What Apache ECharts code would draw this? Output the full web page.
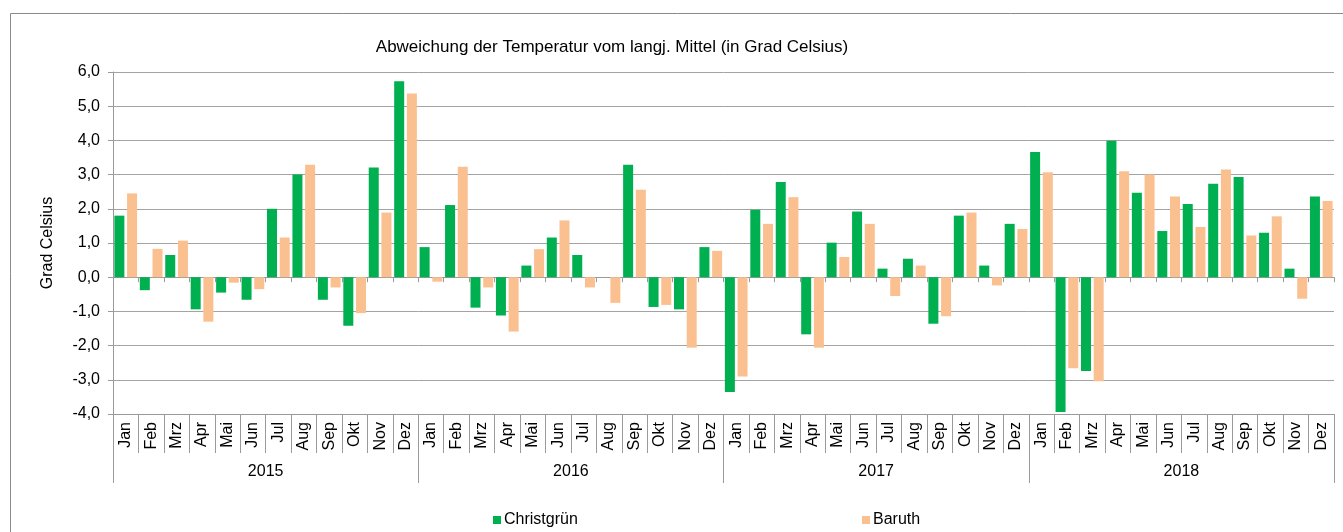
<!DOCTYPE html>
<html>
<head>
<meta charset="utf-8">
<script src="https://cdn.jsdelivr.net/npm/echarts@6/dist/echarts.min.js"></script>
<style>
html,body{margin:0;padding:0;background:#fff;}
#chart{width:1343px;height:532px;}
</style>
</head>
<body>
<div id="chart"></div>
<script>
const monthNames = ['Jan','Feb','Mrz','Apr','Mai','Jun','Jul','Aug','Sep','Okt','Nov','Dez'];
const years = ['2015','2016','2017','2018'];
const christgruen = [
  1.80,-0.38,0.65,-0.94,-0.45,-0.66,2.00,3.00,-0.66,-1.42,3.21,5.73,
  0.88,2.11,-0.89,-1.12,0.34,1.16,0.65,0.00,3.29,-0.87,-0.94,0.88,
  -3.36,1.97,2.78,-1.67,1.01,1.92,0.25,0.54,-1.36,1.80,0.34,1.56,
  3.66,-3.94,-2.74,3.99,2.47,1.35,2.14,2.73,2.93,1.30,0.25,2.36
];
const baruth = [
  2.45,0.83,1.07,-1.30,-0.16,-0.35,1.16,3.29,-0.30,-1.05,1.89,5.37,
  -0.13,3.23,-0.30,-1.59,0.82,1.66,-0.30,-0.75,2.56,-0.81,-2.06,0.77,
  -2.90,1.56,2.34,-2.06,0.59,1.56,-0.55,0.34,-1.14,1.89,-0.24,1.41,
  3.07,-2.66,-3.04,3.10,3.00,2.36,1.47,3.15,1.22,1.78,-0.63,2.23
];
const categories = [];
years.forEach(y => monthNames.forEach(m => categories.push(m)));

const FONT = 'Liberation Sans, Arial, sans-serif';
const GRAY = '#9a9a9a';
const chart = echarts.init(document.getElementById('chart'), null, {renderer:'canvas'});
chart.setOption({
  animation: false,
  backgroundColor: '#fff',
  title: {
    text: 'Abweichung der Temperatur vom langj. Mittel (in Grad Celsius)',
    left: 607, top: 34, textAlign: 'center',
    textStyle: {fontFamily: FONT, fontSize: 17, fontWeight: 'normal', color: '#000'}
  },
  graphic: [{
    type: 'rect', silent: true, z: -1,
    shape: {x: 10.5, y: 13.5, width: 1400, height: 600},
    style: {fill: 'none', stroke: '#8a8a8a', lineWidth: 1}
  }],
  legend: [
    {data: ['Christgrün'], left: 488, top: 507, itemWidth: 8, itemHeight: 8, itemGap: 6,
     icon: 'rect', textStyle: {fontFamily: FONT, fontSize: 16, color: '#000', padding: [0,0,0,-2]}},
    {data: ['Baruth'], left: 857, top: 507, itemWidth: 8, itemHeight: 8, itemGap: 6,
     icon: 'rect', textStyle: {fontFamily: FONT, fontSize: 16, color: '#000', padding: [0,0,0,-2]}}
  ],
  grid: {left: 113, right: 9, top: 72, bottom: 118, containLabel: false},
  xAxis: [
    {
      type: 'category', data: categories, position: 'bottom',
      axisLine: {onZero: false, lineStyle: {color: GRAY}},
      axisTick: {show: true, length: 39, interval: 0, lineStyle: {color: GRAY}},
      axisLabel: {rotate: 90, interval: 0, margin: 8, fontFamily: FONT, fontSize: 16, color: '#000'}
    },
    {
      type: 'category', data: years, position: 'bottom',
      axisLine: {show: false, onZero: false},
      axisTick: {show: true, length: 69, interval: 0, lineStyle: {color: GRAY}},
      axisLabel: {margin: 50, fontFamily: FONT, fontSize: 16, color: '#000'}
    },
    {
      type: 'category', data: categories, position: 'bottom',
      axisLine: {onZero: true, lineStyle: {color: GRAY}},
      axisTick: {show: true, length: 5, interval: 0, lineStyle: {color: GRAY}},
      axisLabel: {show: false}
    }
  ],
  yAxis: {
    type: 'value', min: -4, max: 6, interval: 1,
    name: 'Grad Celsius', nameLocation: 'middle', nameGap: 57, nameRotate: 90,
    nameTextStyle: {fontFamily: FONT, fontSize: 16, color: '#000'},
    axisLine: {show: true, lineStyle: {color: GRAY}},
    axisTick: {show: true, length: 5, lineStyle: {color: GRAY}},
    axisLabel: {margin: 13, fontFamily: FONT, fontSize: 16, color: '#000',
      formatter: v => v.toFixed(1).replace('.', ',')},
    splitLine: {show: true, lineStyle: {color: '#a3a3a3', width: 1}}
  },
  series: [
    {name: 'Christgrün', type: 'bar', xAxisIndex: 0, data: christgruen, barWidth: 10, barGap: '27%',
     itemStyle: {color: '#00b050'}},
    {name: 'Baruth', type: 'bar', xAxisIndex: 0, data: baruth, barWidth: 10, barGap: '27%',
     itemStyle: {color: '#fac090'}}
  ]
});
</script>
</body>
</html>
